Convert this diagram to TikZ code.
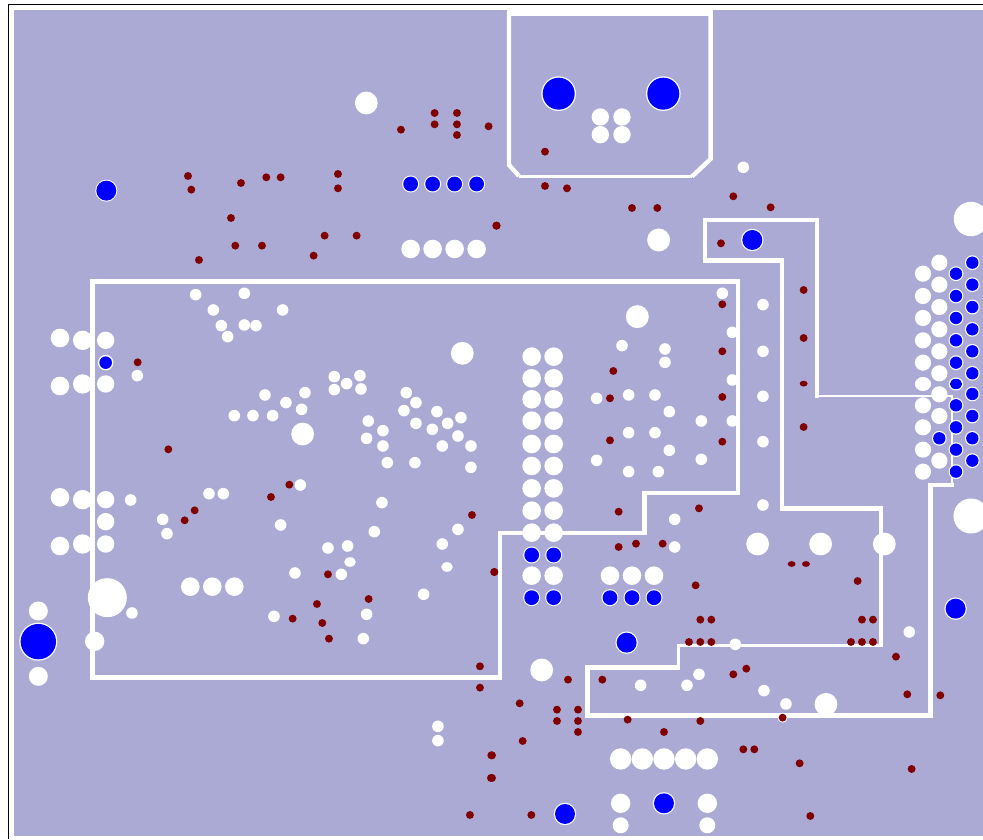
\documentclass[tikz,border=0pt]{standalone}
\definecolor{plane}{HTML}{AAAAD4}
\definecolor{via}{HTML}{800000}
\definecolor{padblue}{HTML}{0000FF}
\newcommand{\wpads}[2]{\foreach \cx/\cy in {#2}{\fill[white] (\cx,\cy) circle (#1pt);}}
\newcommand{\bpads}[3]{\foreach \cx/\cy in {#3}{\fill[white] (\cx,\cy) circle (#2pt);\fill[padblue] (\cx,\cy) circle (#1pt);}}
\newcommand{\rvias}[1]{\foreach \cx/\cy in {#1}{\fill[via] (\cx,\cy) circle (3.95pt);}}
\newcommand{\flatvias}[1]{\foreach \cx/\cy in {#1}{\fill[via] (\cx,\cy) ellipse (3.95pt and 2.9pt);}}
\tikzset{
  moat/.style={draw=white,line width=4.4pt,line cap=butt,line join=miter},
  thinmoat/.style={draw=white,line width=2.8pt,line cap=butt,line join=miter},
  zoomA/.style={x=0.3333pt,y=-0.3333pt,shift={(0pt,0pt)}},
  zoomB/.style={x=0.3333pt,y=-0.3333pt,shift={(490pt,0pt)}},
  zoomC/.style={x=0.3333pt,y=-0.3333pt,shift={(0pt,-420pt)}},
  zoomD/.style={x=0.3333pt,y=-0.3333pt,shift={(490pt,-420pt)}},
  zoomE/.style={x=0.3333pt,y=-0.3333pt,shift={(880pt,-200pt)}},
}
\begin{document}
\begin{tikzpicture}[x=1pt,y=-1pt]
\useasboundingbox (0,0) rectangle (983,839);
\clip (0,0) rectangle (983,839);
\fill[white] (0,0) rectangle (983,839);
% frame
\draw[black,line width=1.6pt] (8.6,839) -- (8.6,4.4) -- (983,4.4);
% copper plane
\fill[plane] (14,10) rectangle (983,836);
% outlines
\fill[white] (506.7,9) rectangle (712.7,16);
\draw[moat] (509,12) -- (509,165) -- (519,176);
\draw[moat,line width=2.8pt] (519,176.3) -- (692,176.3);
\draw[moat] (692,176.5) -- (710.6,159) -- (710.6,12);
\draw[moat,line width=4.6pt,line join=miter] (92.7,281.5) -- (738,281.5) -- (738,493) -- (644.5,493) -- (644.5,533) -- (499.8,533) -- (499.8,677.5) -- (92.7,677.5) -- cycle;
\draw[moat] (817,397.5) -- (817,220) -- (705,220) -- (705,260.5) -- (782,260.5) -- (782,508.5) -- (881,508.5);
\draw[thinmoat] (815,396) -- (952,396) -- (952,485);
\draw[moat,line width=3.6pt] (953.8,485) -- (930.5,485);
\draw[moat] (930.5,483.2) -- (930.5,715.5) -- (587.5,715.5) -- (587.5,667.5) -- (680,667.5);
\draw[moat,line width=2.6pt] (678.7,668) -- (678.7,645.5);
\draw[moat,line width=2.2pt] (677.4,645.5) -- (882.7,645.5);
\draw[moat,line width=3.4pt] (881,646.6) -- (881,506.3);
% zoom-A
\begin{scope}[zoomA]
\wpads{11.4}{1099/309,1387/1060}
\wpads{9.3}{1232/747,1298/747,1364/747,1430/747,180/1014,180/1158}
\wpads{9.7}{248/1021,248/1152}
\wpads{8.7}{317/1021,317/1152}
\wpads{5.8}{587/884,733/880,640/930,848/930,664/977,733/975,768/977,683/1010,412/1127,1003/1130,1080/1127,1040/1151,1003/1169,1083/1167,795/1185,915/1178,858/1208,905/1228,703/1247,759/1247,818/1247,1219/1178,1248/1208,1212/1232,1311/1235}
\bpads{10}{11}{319/572}
\bpads{7.4}{8.5}{1232/552,1298/552,1364/552,1430/552}
\bpads{6.3}{7.8}{317/1088}
\rvias{1203/389,1304/339,1304/373,1371/339,1371/373,1371/405,1466/379,564/528,574/569,723/549,799/532,842/532,1014/522,1014/565,693/654,706/737,786/737,974/707,1070/707,941/767,597/780,1489/677,413/1087}
\end{scope}
% zoom-C
\begin{scope}[zoomC]
\wpads{11.4}{908/42}
\wpads{19.5}{322/533}
\wpads{9.3}{180/232,180/378,571/500,637/500,703/500}
\wpads{9.7}{248/239,248/372,284/664}
\wpads{8.7}{317/239,317/305,317/372}
\wpads{9.5}{115/573,115/769}
\wpads{5.8}{1105/3,1248/10,1297/28,1343/10,1383/-7,1149/32,1100/55,1149/78,1374/48,1327/78,1413/78,1162/128,1245/128,1413/142,901/195,627/221,670/221,392/240,488/298,501/341,1146/248,842/315,1123/335,984/384,1043/378,885/459,1024/463,1374/328,1327/372,1271/523,822/589,1100/583,1090/656,396/579,1314/919,1314/962}
\foreach \cx/\cy in {1050/426,1341/441}{\fill[white] (\cx,\cy) ellipse (5.8pt and 4.8pt);}
\bpads{17.7}{19}{115/665}
\rvias{505/88,868/194,813/231,584/271,554/301,1416/285,1483/456,984/463,951/552,1106/537,878/596,967/609,987/656,1440/739,1440/803,1474/1006,1473/1074,1410/1185}
\end{scope}
% zoom-B
\begin{scope}[zoomB]
\wpads{8.7}{331/351,396/351,331/404,396/404}
\wpads{11.5}{506/720,442/950}
\wpads{17.2}{1443/657}
\wpads{9.3}{125/1070,191/1070,125/1135,191/1135,125/1198,191/1198,125/1262,191/1262}
\wpads{5.8}{760/502,697/880,819/914,727/997,819/1054,396/1037,525/1047,525/1087,727/1140,819/1189,320/1195,416/1185,495/1185,538/1235,634/1263,727/1263}
\bpads{16}{17.3}{206/281,520/281}
\bpads{10}{11.2}{787/720}
\rvias{165/455,165/558,231/565,730/589,20/677,693/730,941/870,941/1014,697/913,697/1054,697/1191,370/1113,360/1195}
\flatvias{941/1151}
\begin{scope}
\clip (0,600) rectangle (1000,634);
\rvias{426/624,502/624,842/622}
\end{scope}
\end{scope}
% zoom-D
\begin{scope}[zoomD]
\wpads{9.3}{125/72,191/72,125/138,191/138,125/205,191/205,125/272,191/272,125/338,191/338,125/467,191/467,360/467,426/467,492/467}
\wpads{11.4}{803/372,992/372,1183/372,155/750,1008/853}
\wpads{17.5}{1443/288}
\wpads{10.7}{392/1017,457/1017,522/1017,587/1017,652/1017}
\wpads{9.7}{392/1150,652/1150}
\wpads{8}{392/1216,652/1216}
\wpads{5.8}{416/38,495/38,538/91,320/121,634/118,416/155,505/155,819/65,819/255,554/298,554/381,736/673,1258/636,627/763,591/796,452/796,822/812,888/852}
\bpads{7.4}{8.5}{125/405,191/405,125/533,191/533,360/533,426/533,492/533}
\bpads{10}{11.2}{1397/566,410/668,225/1182,522/1150}
\fill[white] (878,893) circle (5pt);
\rvias{360/61,697/65,386/275,627/265,386/381,438/371,518/371,13/456,617/496,1103/483,631/599,664/599,1116/599,1149/599,597/666,631/666,664/666,1083/666,1116/666,1149/666,1218/710,234/779,337/779,730/763,769/746,89/850,201/869,264/869,201/903,264/903,264/936,413/899,631/903,522/936,878/893,1252/823,1351/826,98/963,6/1006,6/1074,760/988,793/988,929/1030,1265/1047,124/1185,961/1188,941/21}
\flatvias{905/432,948/432}
\end{scope}
% zoom-E : connector
\begin{scope}[zoomE]
\wpads{8.1}{129/221,129/288,129/354,129/421,129/488,129/616,129/682,129/749,129/815,178/188,178/254,178/321,178/388,178/454,178/520,178/583,178/648,178/782}
\fill[white] (129,552) ellipse (8.1pt and 7pt);
\bpads{6.2}{7.4}{178/715,228/221,228/288,228/354,228/421,228/488,228/616,228/682,228/749,228/815,277/188,277/254,277/321,277/388,277/454,277/520,277/582,277/648,277/715,277/782}
\fill[white] (228,552) ellipse (7.4pt and 6.5pt);
\fill[padblue] (228,552) ellipse (6.2pt and 5.2pt);
\end{scope}
\end{tikzpicture}
\end{document}
